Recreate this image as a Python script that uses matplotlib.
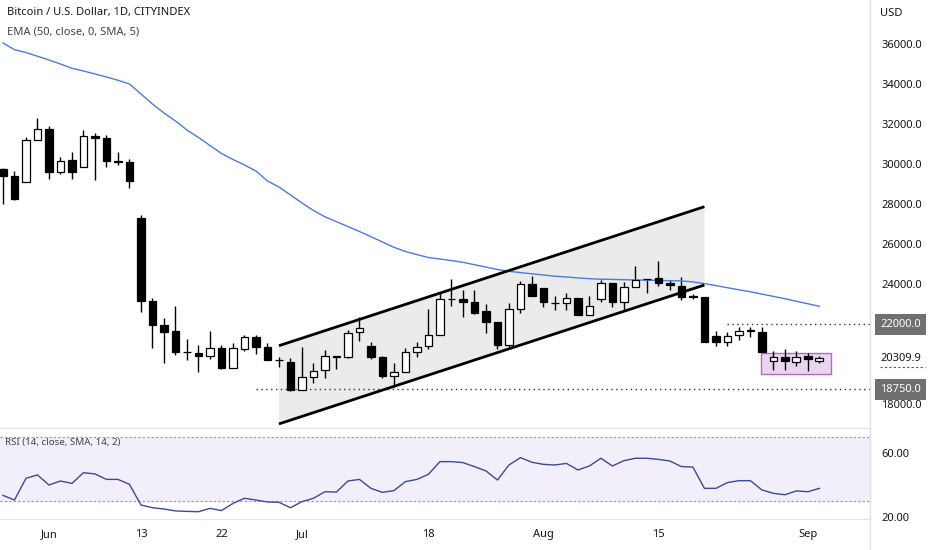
import matplotlib
matplotlib.use("Agg")
import matplotlib.pyplot as plt
import matplotlib.transforms as mtransforms
from matplotlib.patches import Rectangle, Polygon
import numpy as np
import pandas as pd

plt.rcParams['font.family'] = ['Noto Sans', 'DejaVu Sans']

# --- data (daily candles, weekdays only) ---
dates = pd.bdate_range("2022-05-26", "2022-09-02")

opens = [29750, 29415, 29115, 31215, 31780, 29615, 30200, 29880, 31415, 31300,
         30150, 30115, 27330, 23165, 21950, 21650, 20615, 20580, 20415, 20800,
         19800, 20780, 21350, 20880, 20215, 20130, 18715, 19380, 19715, 20415,
         20350, 21600, 20930, 20380, 19415, 19630, 20630, 20900, 21465, 23265,
         23250, 23100, 22680, 22130, 20965, 22750, 24015, 23800, 23050, 23050,
         23300, 22465, 23250, 24050, 23130, 23850, 24250, 24300, 24050, 23930,
         23390, 23380, 21415, 21130, 21465, 21690, 21630, 20165, 20365, 20115,
         20415, 20165]
highs = [29800, 29650, 31380, 32330, 31915, 30350, 30630, 31715, 31550, 31480,
         30630, 30280, 27450, 23315, 22300, 22915, 21280, 20965, 21680, 20965,
         21050, 21465, 21480, 21050, 20380, 20300, 20880, 20050, 20715, 20430,
         21715, 22380, 21130, 20400, 20080, 20800, 21130, 22750, 23630, 24250,
         23715, 23715, 23000, 22130, 23050, 24165, 24415, 23800, 23430, 23580,
         23300, 23430, 24215, 24050, 24130, 24915, 24250, 25180, 24215, 24380,
         23515, 23380, 21665, 21630, 21880, 21850, 21850, 20665, 20780, 20665,
         20550, 20415]
lows = [28015, 28200, 29100, 31200, 29280, 29515, 29265, 29880, 29215, 29850,
        29950, 28815, 22615, 20800, 20080, 20465, 20215, 19630, 20250, 19750,
        19800, 20680, 20515, 20215, 19880, 18680, 18715, 19050, 19300, 19750,
        20330, 21180, 20250, 19300, 18880, 19630, 20380, 20750, 21465, 22930,
        22350, 22515, 21580, 20750, 20880, 22580, 23415, 22850, 22715, 22715,
        22465, 22465, 23130, 22850, 22715, 23850, 23580, 23915, 23715, 23215,
        23250, 21130, 20915, 20915, 21215, 21350, 20630, 19715, 19715, 19915,
        19665, 20050]
closes = [29415, 28250, 31215, 31750, 29615, 30180, 29615, 31415, 31300, 30150,
          30100, 29165, 23150, 21950, 21630, 20615, 20600, 20415, 20800, 19800,
          20800, 21380, 20880, 20215, 20200, 18715, 19380, 19680, 20415, 20350,
          21580, 21800, 20380, 19415, 19630, 20630, 20880, 21465, 23265, 23250,
          23100, 22580, 22130, 20965, 22750, 24015, 23415, 23100, 23040, 23300,
          22465, 22915, 24050, 23130, 23880, 24215, 24240, 24080, 23950, 23380,
          23380, 21130, 21130, 21415, 21680, 21680, 20630, 20365, 20165, 20365,
          20280, 20309.9]

ema50 = [36065, 35730, 35590, 35400, 35215, 35015, 34800, 34665, 34515, 34365,
         34200, 34015, 33515, 33015, 32565, 32165, 31715, 31340, 30940, 30540,
         30240, 29965, 29665, 29165, 28865, 28465, 28065, 27690, 27375, 27130,
         26885, 26640, 26380, 26115, 25850, 25640, 25485, 25340, 25265, 25185,
         25100, 24980, 24860, 24740, 24650, 24585, 24525, 24465, 24405, 24365,
         24320, 24280, 24255, 24245, 24230, 24215, 24205, 24195, 24180, 24170,
         24120, 24035, 23935, 23830, 23725, 23625, 23510, 23395, 23280, 23150,
         23025, 22900]

rsi14 = [33.5, 30.6, 44.2, 46.3, 40.0, 42.5, 41.0, 47.7, 46.9, 43.5,
         43.5, 40.4, 27.5, 25.8, 25.0, 23.8, 23.5, 23.3, 25.4, 24.0,
         28.5, 31.7, 30.6, 29.4, 29.2, 25.8, 29.6, 31.7, 35.8, 35.6,
         42.5, 43.5, 37.9, 35.4, 36.5, 42.1, 43.5, 46.7, 54.6, 54.6,
         54.0, 51.5, 48.8, 43.1, 52.5, 57.1, 54.2, 52.9, 52.5, 53.5,
         49.4, 51.9, 56.7, 51.9, 55.2, 56.7, 56.7, 56.0, 55.0, 51.5,
         51.2, 37.9, 37.9, 41.5, 42.7, 42.7, 36.9, 34.8, 33.9, 36.3,
         35.8, 37.9]

tick_dates = ["2022-06-01", "2022-06-13", "2022-06-22", "2022-07-01",
              "2022-07-18", "2022-08-01", "2022-08-15", "2022-09-01"]
tick_labels = ["Jun", "13", "22", "Jul", "18", "Aug", "15", "Sep"]

price_ticks = [18000, 24000, 26000, 28000, 30000, 32000, 34000, 36000]

# drawings
channel_dates = ["2022-06-29", "2022-08-19"]
channel_upper = [20930, 27880]
channel_lower = [17020, 23965]
resistance = 22000.0
resistance_from = "2022-08-23"
support = 18750.0
support_from = "2022-06-27"
box_from = "2022-08-26"
box_prices = [19500, 20580]

# --- helpers ---
def pos(d):
    return dates.get_loc(pd.Timestamp(d))

x = np.arange(len(dates))
o = np.array(opens)
c = np.array(closes)
up = c >= o

fig = plt.figure(figsize=(9.32, 5.5), dpi=100)
ax = fig.add_axes([0, 1 - 428 / 550, 870 / 932, 428 / 550])
ax_rsi = fig.add_axes([0, 1 - 519 / 550, 870 / 932, 90 / 550], sharex=ax)

grid_c = '#e0e3eb'
text_c = '#131722'
fs = 8

# channel
cx = [pos(d) for d in channel_dates]
ax.add_patch(Polygon([(cx[0], channel_lower[0]), (cx[1], channel_lower[1]),
                      (cx[1], channel_upper[1]), (cx[0], channel_upper[0])],
                     closed=True, fc='#ebebeb', ec='none', zorder=1))
ax.plot(cx, channel_upper, color='black', lw=2, zorder=5, solid_capstyle='butt')
ax.plot(cx, channel_lower, color='black', lw=2, zorder=5, solid_capstyle='butt')

# consolidation box
bx0 = pos(box_from) - 0.1
bx1 = len(dates)
ax.add_patch(Rectangle((bx0, box_prices[0]), bx1 - bx0, box_prices[1] - box_prices[0],
                       fc='#ead5f0', ec='#b866cc', lw=1, zorder=1))

# levels
ax.hlines(resistance, pos(resistance_from), 80, color='#333333', lw=1,
          linestyles=(0, (1, 2.5)), zorder=2)
ax.hlines(support, pos(support_from), 80, color='#333333', lw=1,
          linestyles=(0, (1, 2.5)), zorder=2)

# candles
ax.vlines(x, lows, highs, color='black', lw=1, zorder=3)
ax.bar(x, np.maximum(np.abs(c - o), 25), bottom=np.minimum(o, c), width=0.68,
       color=np.where(up, 'white', 'black'), edgecolor='black', lw=0.9, zorder=4)

# EMA
ax.plot(x, ema50, color='#4a7be0', lw=1, zorder=3)

ax.set_xlim(-0.26, 75.4)
ax.set_ylim(16815, 38215)

for s in ['left', 'top']:
    ax.spines[s].set_visible(False)
ax.spines['right'].set_color(grid_c)
ax.spines['bottom'].set_color(grid_c)
ax.yaxis.tick_right()
ax.set_yticks(price_ticks)
ax.set_yticklabels([f"{p:.1f}" for p in price_ticks])
ax.tick_params(axis='y', length=0, pad=8, labelsize=fs, labelcolor=text_c)
ax.tick_params(axis='x', length=0, labelbottom=False)

ax.text(7 / 870, 1 - 13 / 428, "Bitcoin / U.S. Dollar, 1D, CITYINDEX", transform=ax.transAxes,
        fontsize=8, fontweight='bold', color=text_c, va='center', ha='left')
ax.text(7 / 870, 1 - 32 / 428, "EMA (50, close, 0, SMA, 5)", transform=ax.transAxes,
        fontsize=8, color='#444444', va='center', ha='left')
ax.text(1 + 10 / 870, 1 - 13 / 428, "USD", transform=ax.transAxes,
        fontsize=fs, color=text_c, va='center', ha='left', clip_on=False)

blend = mtransforms.blended_transform_factory(ax.transAxes, ax.transData)
for lvl in [resistance, support]:
    ax.text(1 + 10 / 870, lvl, f"{lvl:.1f}", transform=blend, fontsize=fs, color='white',
            va='center', ha='left', clip_on=False,
            bbox=dict(boxstyle='square,pad=0.45', fc='#707070', ec='none'))
ax.text(1 + 10 / 870, closes[-1], f"{closes[-1]:.1f}", transform=blend, fontsize=fs,
        color=text_c, va='center', ha='left', clip_on=False)
ax.plot([1 + 10 / 870, 1 + 55 / 870], [closes[-1] - 460] * 2, transform=blend,
        color='#555555', lw=0.8, ls=(0, (2, 2)), clip_on=False)

# RSI pane
ax_rsi.axhspan(30, 70, color='#f2eefa', zorder=0)
ax_rsi.axhline(70, color='#9598a1', lw=0.8, ls=(0, (2, 2)))
ax_rsi.axhline(30, color='#9598a1', lw=0.8, ls=(0, (2, 2)))
ax_rsi.plot(x, rsi14, color='#3d4a94', lw=1, zorder=3)
ax_rsi.set_ylim(18.75, 75)
for s in ['left', 'top']:
    ax_rsi.spines[s].set_visible(False)
ax_rsi.spines['right'].set_color(grid_c)
ax_rsi.spines['bottom'].set_color(grid_c)
ax_rsi.yaxis.tick_right()
ax_rsi.set_yticks([20, 60])
ax_rsi.set_yticklabels(["20.00", "60.00"])
ax_rsi.tick_params(axis='y', length=0, pad=8, labelsize=fs, labelcolor=text_c)
ax_rsi.set_xticks([pos(d) for d in tick_dates])
ax_rsi.set_xticklabels(tick_labels)
ax_rsi.tick_params(axis='x', length=0, pad=7, labelsize=fs, labelcolor=text_c)
ax_rsi.text(5 / 870, 1 - 13 / 90, "RSI (14, close, SMA, 14, 2)", transform=ax_rsi.transAxes,
            fontsize=7, color='#444444', va='center', ha='left')

fig.add_artist(plt.Line2D([870 / 932] * 2, [0, 1], color=grid_c, lw=1))

fig.savefig("out.png", dpi=100, facecolor='white')
